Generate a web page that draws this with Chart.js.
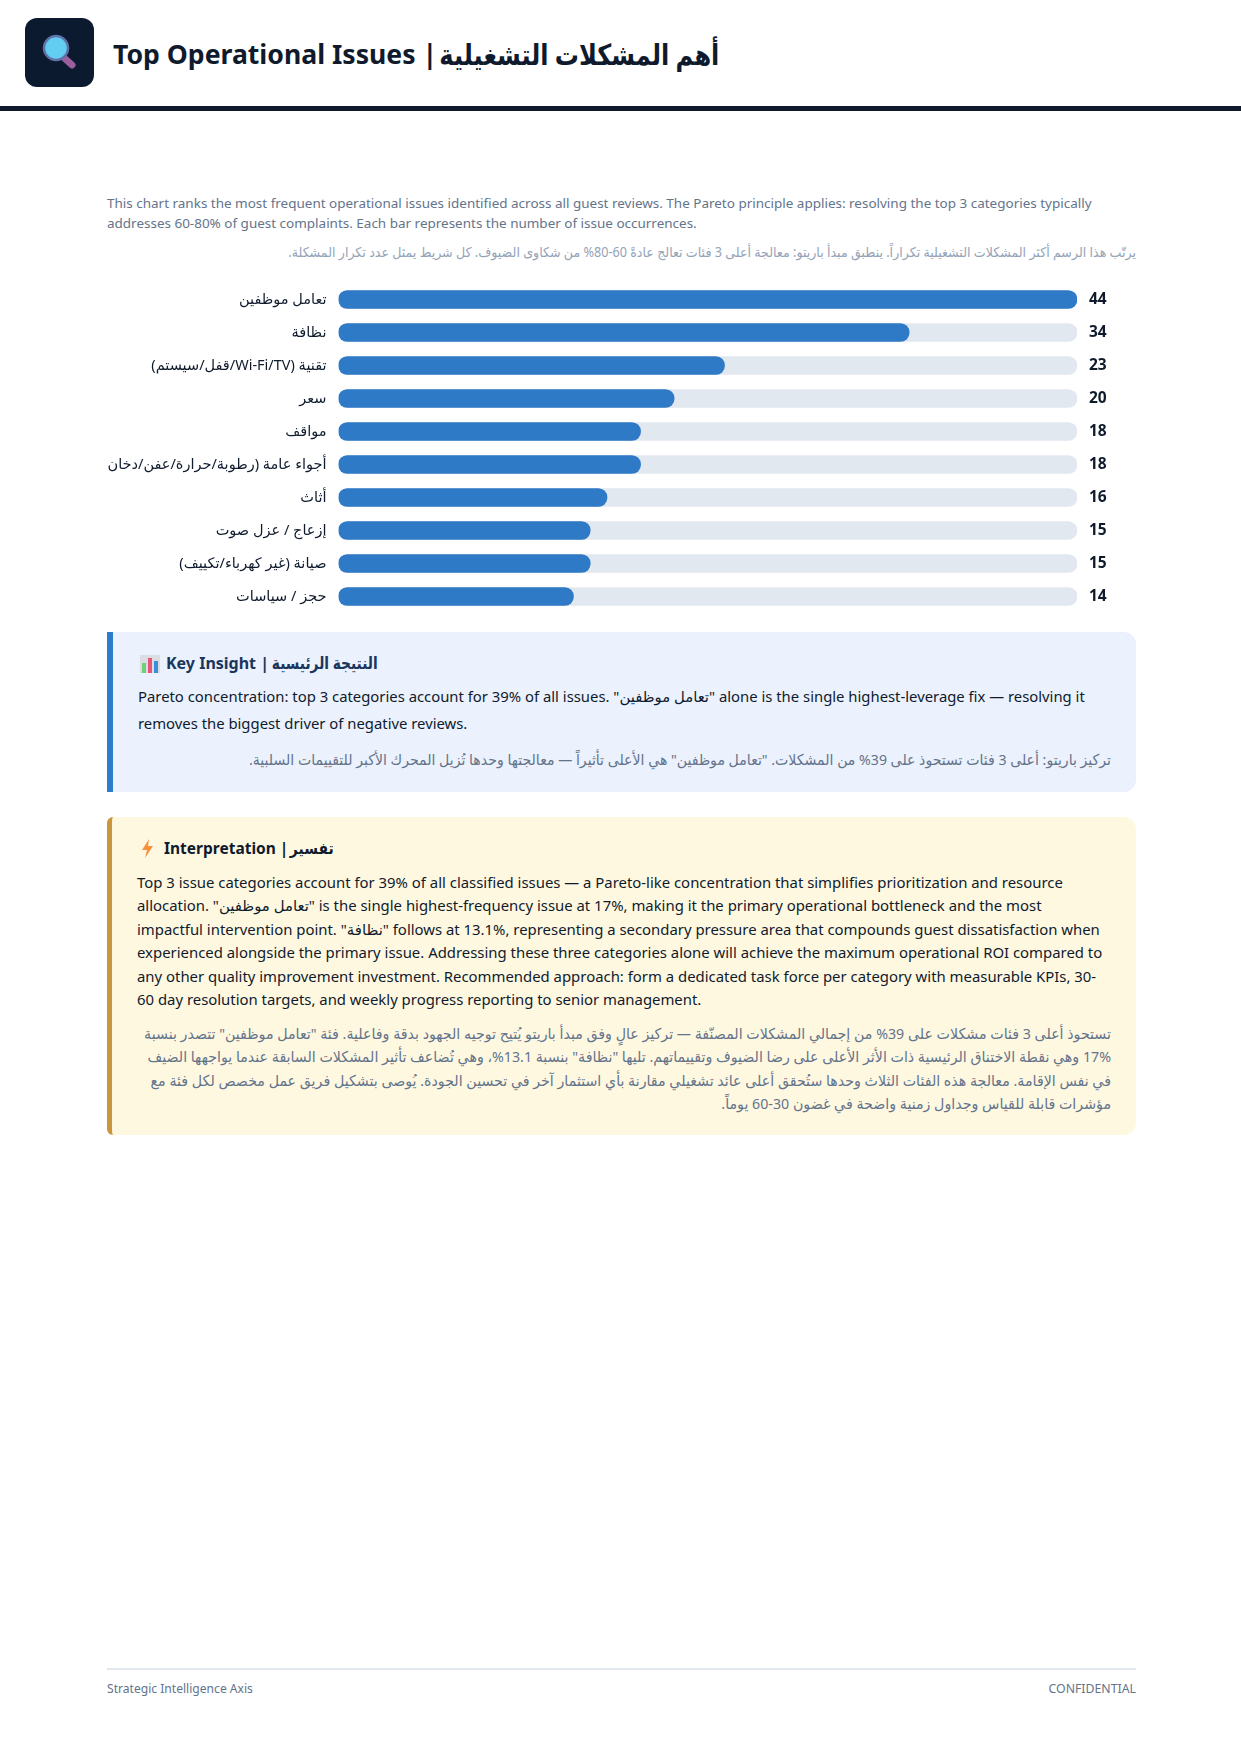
<!DOCTYPE html>
<html>
<head>
<meta charset="utf-8">
<script src="https://cdn.jsdelivr.net/npm/chart.js@4"></script>
<style>
  html, body { margin: 0; padding: 0; background: #fff; }
  body { width: 1241px; height: 1754px; position: relative; overflow: hidden;
    font-family: "Noto Sans", Roboto, "DejaVu Sans", sans-serif; color: #0f1b2d; }
  .abs { position: absolute; white-space: nowrap; }
  .ar { direction: rtl; text-align: right; transform-origin: right center; }
  #logo { left: 25px; top: 18px; width: 69px; height: 69px; border-radius: 12px; background: #0b1a2e; }
  #rule { left: 0; top: 106px; width: 1241px; height: 5px; background: #0f1b2d; }
  #chartBox { left: 107px; top: 283px; width: 1029px; height: 330px; }
  .box { left: 107px; width: 1029px; box-sizing: border-box; }
  #insightBox { top: 632px; height: 160px; background: #ebf1fd; border-left: 6px solid #2b7cc9; border-radius: 0 12px 12px 0; }
  #interpBox { top: 817px; height: 318px; background: #fff8e1; border-left: 5px solid #c9963e; border-radius: 6px 12px 12px 6px; }
  #footLine { left: 107px; top: 1668px; width: 1029px; height: 2px; background: #e2e8f0; }
</style>
</head>
<body>
  <div class="abs" id="logo">
    <svg width="69" height="69" viewBox="0 0 69 69">
      <line x1="37" y1="38" x2="47" y2="47" stroke="#9b5f9e" stroke-width="7" stroke-linecap="round"/>
      <circle cx="31" cy="30" r="12" fill="#62cdf0" stroke="#5f72a8" stroke-width="2.5"/>
    </svg>
  </div>
  <div class="abs" id="title" style="left:113px;top:34px;font-size:26.6px;line-height:40px;font-weight:700"></div>
  <div class="abs ar" id="titleAr" style="right:522px;top:34px;font-size:29px;line-height:40px;font-weight:700;transform:scaleX(.83)"></div>
  <div class="abs" id="rule"></div>

  <div class="abs" id="subEn" style="left:107px;top:193px;font-size:13.47px;line-height:20px;color:#64748b"></div>
  <div class="abs ar" id="subAr" style="left:107px;width:1029px;top:240px;font-size:13.5px;line-height:24px;color:#94a3b8;transform:scaleX(.935)"></div>

  <div class="abs" id="chartBox"><canvas id="issuesChart" dir="rtl"></canvas></div>

  <div class="abs box" id="insightBox"></div>
  <svg class="abs" style="left:140px;top:655px" width="20" height="18" viewBox="0 0 20 18">
    <rect width="20" height="18" fill="#dcdde3"/>
    <rect x="2" y="8" width="4" height="10" fill="#6fd07c"/>
    <rect x="8" y="3" width="4" height="15" fill="#e8547a"/>
    <rect x="14" y="6" width="4" height="12" fill="#3a8fd8"/>
  </svg>
  <div class="abs" id="insightTitle" style="left:166px;top:651px;font-size:16px;line-height:24px;font-weight:700;color:#1a365d"></div>
  <div class="abs ar" id="insightTitleAr" style="right:863px;top:651px;font-size:17px;line-height:24px;font-weight:700;color:#1a365d;transform:scaleX(.81)"></div>
  <div class="abs" id="insightEn" style="left:138px;top:683px;font-size:14.85px;line-height:26.6px;color:#0f1b2d"></div>
  <div class="abs ar" id="insightAr" style="left:138px;width:973px;top:746px;font-size:15px;line-height:26px;color:#64748b;transform:scaleX(.94)"></div>

  <div class="abs box" id="interpBox"></div>
  <svg class="abs" style="left:141px;top:839px" width="13" height="19" viewBox="0 0 13 19">
    <path d="M8 0 L1 11 L6 11 L4 19 L12 7 L7 7 Z" fill="#f6923c"/>
  </svg>
  <div class="abs" id="interpTitle" style="left:164px;top:836px;font-size:15.5px;line-height:24px;font-weight:700;color:#0f1b2d"></div>
  <div class="abs ar" id="interpTitleAr" style="right:907px;top:836px;font-size:15.5px;line-height:24px;font-weight:700;color:#0f1b2d;transform:scaleX(.9)"></div>
  <div class="abs" id="interpEn" style="left:137px;top:870.5px;font-size:14.9px;line-height:23.5px;color:#0f1b2d"></div>
  <div class="abs ar" id="interpAr" style="left:137px;width:974px;top:1022px;font-size:15px;line-height:23.3px;color:#64748b;transform:scaleX(.947)"></div>

  <div class="abs" id="footLine"></div>
  <div class="abs" id="footL" style="left:107px;top:1681px;font-size:12.1px;line-height:16px;color:#64748b"></div>
  <div class="abs" id="footR" style="right:105px;top:1681px;font-size:12.3px;line-height:16px;color:#64748b"></div>

<script>
// Chart data
const issueLabels = [
  'تعامل موظفين',
  'نظافة',
  'تقنية (Wi-Fi/TV/قفل/سيستم)',
  'سعر',
  'مواقف',
  'أجواء عامة (رطوبة/حرارة/عفن/دخان)',
  'أثاث',
  'إزعاج / عزل صوت',
  'صيانة (غير كهرباء/تكييف)',
  'حجز / سياسات'
];
const issueCounts = [44, 34, 23, 20, 18, 18, 16, 15, 15, 14];
const trackValues = [44, 44, 44, 44, 44, 44, 44, 44, 44, 44];

// Page text
const titleText = 'Top Operational Issues |';
const titleArText = 'أهم المشكلات التشغيلية';
const subEnLines = [
  'This chart ranks the most frequent operational issues identified across all guest reviews. The Pareto principle applies: resolving the top 3 categories typically',
  'addresses 60-80% of guest complaints. Each bar represents the number of issue occurrences.'
];
const subArText = 'يرتّب هذا الرسم أكثر المشكلات التشغيلية تكراراً. ينطبق مبدأ باريتو: معالجة أعلى 3 فئات تعالج عادةً 60-80% من شكاوى الضيوف. كل شريط يمثل عدد تكرار المشكلة.';
const insightTitleText = 'Key Insight |';
const insightTitleArText = 'النتيجة الرئيسية';
const insightEnLines = [
  'Pareto concentration: top 3 categories account for 39% of all issues. "تعامل موظفين" alone is the single highest-leverage fix — resolving it',
  'removes the biggest driver of negative reviews.'
];
const insightArText = 'تركيز باريتو: أعلى 3 فئات تستحوذ على 39% من المشكلات. "تعامل موظفين" هي الأعلى تأثيراً — معالجتها وحدها تُزيل المحرك الأكبر للتقييمات السلبية.';
const interpTitleText = 'Interpretation |';
const interpTitleArText = 'تفسير';
const interpEnLines = [
  'Top 3 issue categories account for 39% of all classified issues — a Pareto-like concentration that simplifies prioritization and resource',
  'allocation. "تعامل موظفين" is the single highest-frequency issue at 17%, making it the primary operational bottleneck and the most',
  'impactful intervention point. "نظافة" follows at 13.1%, representing a secondary pressure area that compounds guest dissatisfaction when',
  'experienced alongside the primary issue. Addressing these three categories alone will achieve the maximum operational ROI compared to',
  'any other quality improvement investment. Recommended approach: form a dedicated task force per category with measurable KPIs, 30-',
  '60 day resolution targets, and weekly progress reporting to senior management.'
];
const interpArLines = [
  'تستحوذ أعلى 3 فئات مشكلات على 39% من إجمالي المشكلات المصنّفة — تركيز عالٍ وفق مبدأ باريتو يُتيح توجيه الجهود بدقة وفاعلية. فئة "تعامل موظفين" تتصدر بنسبة',
  '17% وهي نقطة الاختناق الرئيسية ذات الأثر الأعلى على رضا الضيوف وتقييماتهم. تليها "نظافة" بنسبة 13.1%، وهي تُضاعف تأثير المشكلات السابقة عندما يواجهها الضيف',
  'في نفس الإقامة. معالجة هذه الفئات الثلاث وحدها ستُحقق أعلى عائد تشغيلي مقارنة بأي استثمار آخر في تحسين الجودة. يُوصى بتشكيل فريق عمل مخصص لكل فئة مع',
  'مؤشرات قابلة للقياس وجداول زمنية واضحة في غضون 30-60 يوماً.'
];

// Fill a block with one div per line
function setLines(id, lines) {
  const el = document.getElementById(id);
  lines.forEach(line => {
    const row = document.createElement('div');
    row.textContent = line;
    el.appendChild(row);
  });
}

setLines('title', [titleText]);
setLines('titleAr', [titleArText]);
setLines('subEn', subEnLines);
setLines('subAr', [subArText]);
setLines('insightTitle', [insightTitleText]);
setLines('insightTitleAr', [insightTitleArText]);
setLines('insightEn', insightEnLines);
setLines('insightAr', [insightArText]);
setLines('interpTitle', [interpTitleText]);
setLines('interpTitleAr', [interpTitleArText]);
setLines('interpEn', interpEnLines);
setLines('interpAr', interpArLines);
setLines('footL', ['Strategic Intelligence Axis']);
setLines('footR', ['CONFIDENTIAL']);

// Bar chart, the track is a second dataset drawn behind the values
const ctx = document.getElementById('issuesChart').getContext('2d');
new Chart(ctx, {
  type: 'bar',
  data: {
    labels: issueLabels,
    datasets: [
      {
        label: 'Issues',
        data: issueCounts,
        backgroundColor: '#2e7ac6',
        borderRadius: 9,
        borderSkipped: false,
        barThickness: 18,
        order: 1
      },
      {
        label: 'Track',
        data: trackValues,
        backgroundColor: '#e2e8f0',
        borderRadius: 9,
        borderSkipped: false,
        barThickness: 18,
        order: 2
      }
    ]
  },
  options: {
    indexAxis: 'y',
    responsive: true,
    maintainAspectRatio: false,
    animation: false,
    layout: { padding: 0 },
    datasets: { bar: { grouped: false } },
    plugins: {
      legend: { display: false },
      tooltip: { enabled: false }
    },
    scales: {
      x: {
        min: 0,
        max: 44,
        display: false
      },
      y: {
        position: 'left',
        grid: { display: false, drawTicks: false },
        border: { display: false },
        afterFit: scale => { scale.width = 231.5; scale.paddingTop = 0; scale.paddingBottom = 0; },
        ticks: {
          padding: 12,
          color: '#0f1b2d',
          font: { family: '"Noto Sans", Roboto, "DejaVu Sans", sans-serif', size: 14.5 }
        }
      },
      yValues: {
        type: 'category',
        position: 'right',
        offset: true,
        labels: issueCounts.map(String),
        grid: { display: false, drawTicks: false },
        border: { display: false },
        afterFit: scale => { scale.width = 59; scale.paddingTop = 0; scale.paddingBottom = 0; },
        ticks: {
          padding: 12,
          color: '#0f1b2d',
          font: { family: '"Noto Sans", Roboto, sans-serif', size: 15.5, weight: '700' }
        }
      }
    }
  }
});
</script>
</body>
</html>
